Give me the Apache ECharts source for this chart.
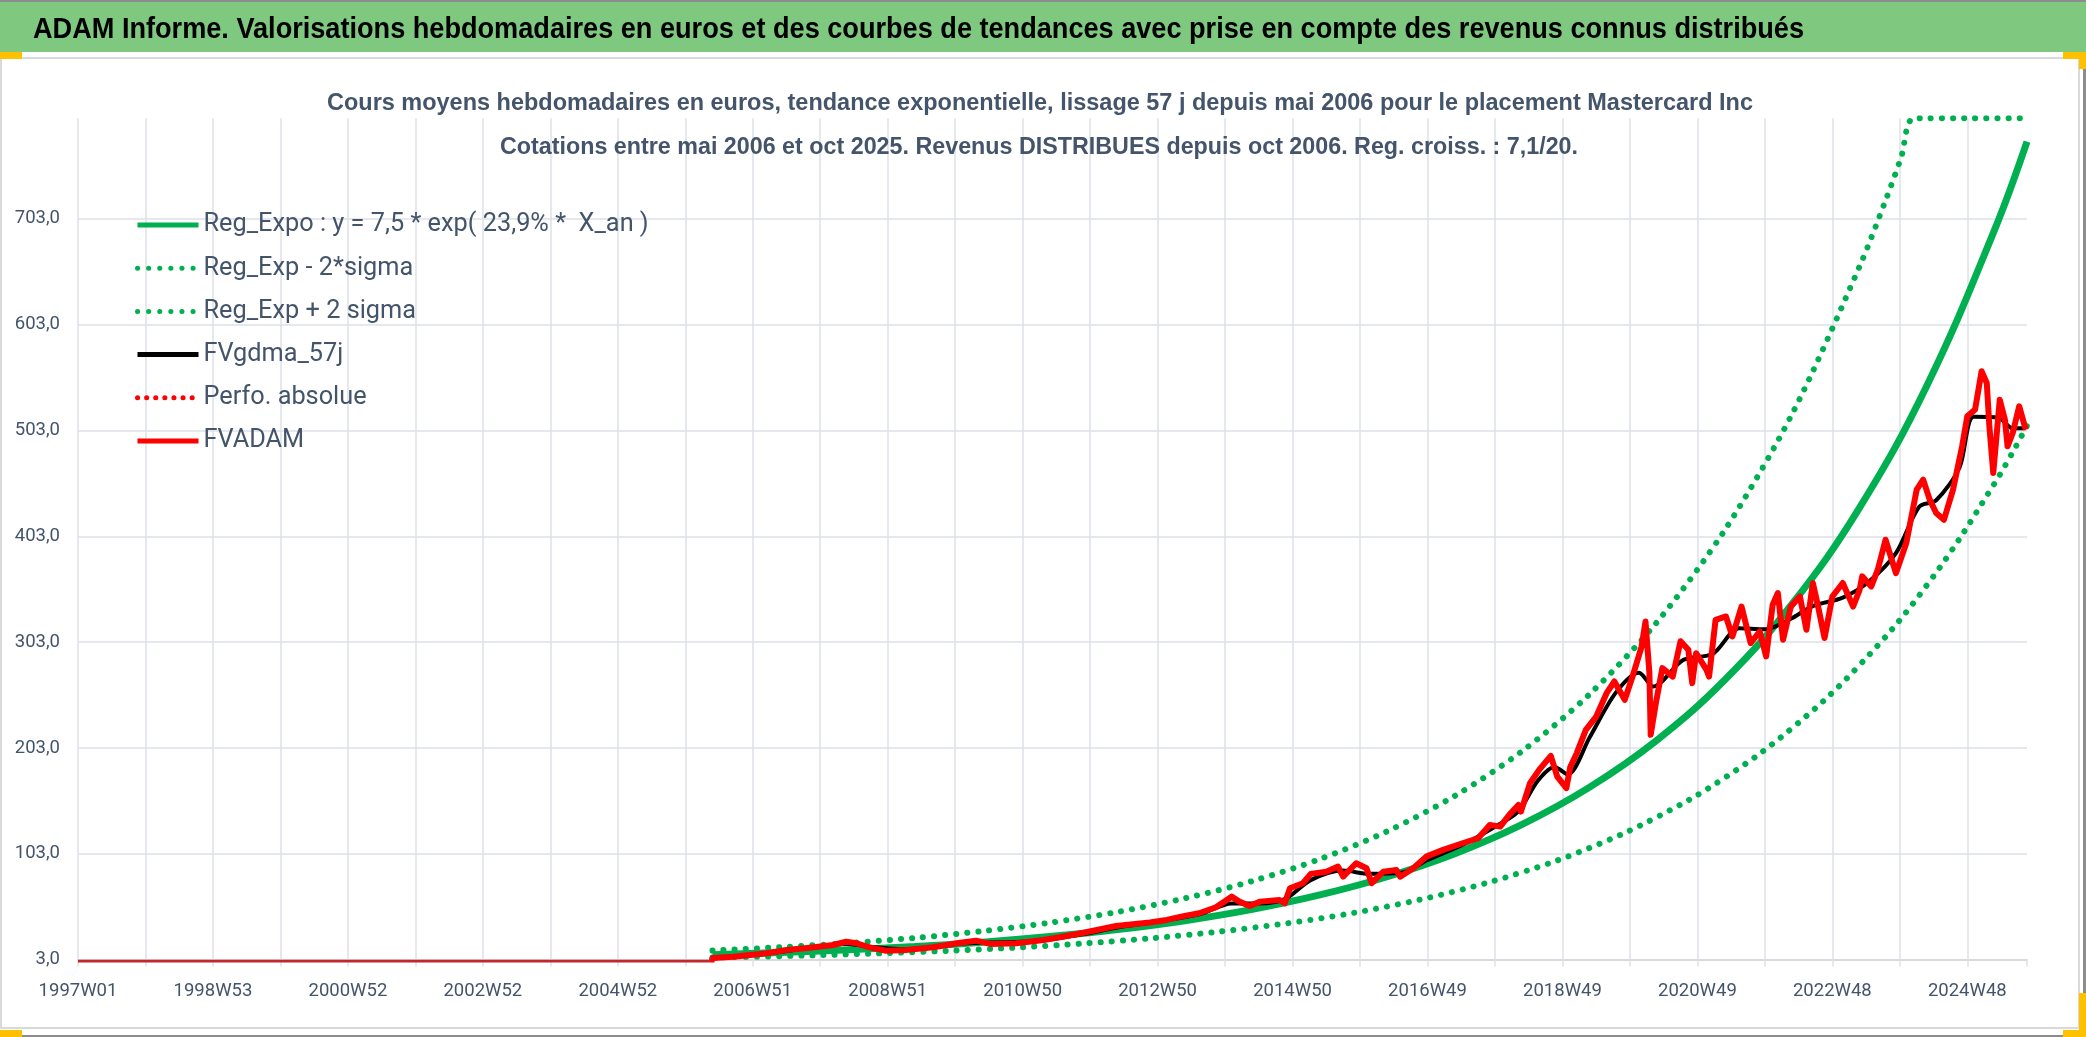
<!DOCTYPE html>
<html>
<head>
<meta charset="utf-8">
<script src="https://cdn.jsdelivr.net/npm/echarts@6/dist/echarts.min.js"></script>
<style>
html,body{margin:0;padding:0;background:#fff;}
#chart{width:2086px;height:1037px;}
</style>
</head>
<body>
<div id="chart"></div>
<script>
// ---------- text ----------
const mainTitle = 'ADAM Informe. Valorisations hebdomadaires en euros et des courbes de tendances avec prise en compte des revenus connus distribués';
const subTitle1 = 'Cours moyens hebdomadaires en euros, tendance exponentielle, lissage 57 j depuis mai 2006 pour le placement Mastercard Inc';
const subTitle2 = 'Cotations entre mai 2006 et oct 2025. Revenus DISTRIBUES depuis oct 2006. Reg. croiss. : 7,1/20.';
const seriesNames = ['Reg_Expo : y = 7,5 * exp( 23,9% *  X_an )', 'Reg_Exp - 2*sigma', 'Reg_Exp + 2 sigma', 'FVgdma_57j', 'Perfo. absolue', 'FVADAM'];

// ---------- x axis (week index from 1997W01) ----------
const tickLabels = ['1997W01','1998W53','2000W52','2002W52','2004W52','2006W51','2008W51','2010W50','2012W50','2014W50','2016W49','2018W49','2020W49','2022W48','2024W48'];

// ---------- trend curves ----------
const trendWeeks = [489,541,593,645,697,749,801,853,905,957,1009,1061,1113,1165,1217,1269,1321,1373,1425,1477,1502];
const regValues  = [7.5,9.5,12.1,15.3,19.4,24.7,31.3,39.7,50.4,64.0,81.2,103.0,130.7,165.9,210.5,267.1,339.0,430.1,545.8,692.6,776];
const lowerValues = [4.9,6.2,7.9,10.0,12.7,16.1,20.5,26.0,33.0,41.8,53.1,67.4,85.5,108.5,137.7,174.7,221.7,281.3,357.0,453.0,507.5];
const upperWeeks  = [489,541,593,645,697,749,801,853,905,957,1009,1061,1113,1165,1217,1269,1321,1373,1394,1405,1415,1460,1502];
const upperValues = [11.5,14.6,18.5,23.4,29.8,37.8,47.9,60.8,77.1,97.9,124.2,157.6,200.0,253.8,322.1,408.7,518.6,658.1,723.6,761.0,798,798,798];

// ---------- FVADAM weekly valuation ----------
const fvadamWeeks = [0,488,489,505,531,546,564,582,592,600,610,623,638,659,680,692,703,723,744,762,775,800,826,839,852,864,877,889,895,903,911,926,930,934,944,950,962,971,975,985,993,997,1006,1016,1019,1029,1039,1052,1067,1079,1088,1096,1103,1110,1112,1119,1126,1135,1140,1147,1150,1155,1162,1170,1178,1184,1192,1198,1205,1208,1211,1212,1216,1221,1229,1235,1241,1244,1247,1255,1257,1262,1270,1275,1282,1289,1296,1301,1306,1310,1314,1320,1327,1332,1337,1341,1346,1352,1360,1368,1373,1375,1382,1387,1393,1401,1409,1417,1422,1427,1432,1438,1445,1452,1456,1462,1467,1471,1473,1476,1481,1485,1487,1491,1496,1501];
const fvadamValues = [0,0,4.5,5.6,8.9,12,14.2,16.7,19.8,18.3,14.5,11.3,12,14.5,18.9,20.8,17.7,18.3,21.4,25.2,28.3,34.7,38,40.4,44,46.7,52.4,62.4,57.7,53.6,57.7,59.3,56.1,70.3,75.1,83.9,86,90.8,81.3,94,89.2,75.1,86,87.6,81.3,89.2,100.2,106.6,112.9,117.6,130.2,128.6,139.7,149.1,142.8,169.6,182.2,195.5,175.9,165,185,198,220,232.6,254.7,265.7,248.4,270.4,298.8,322.5,273.7,215.3,245.3,278.4,270.4,303.8,295.7,264.2,292.5,276.7,270.4,324,327.2,308.3,336.6,302,313,289.4,338.3,349.3,305.2,336.6,346.1,314.6,358.8,336.6,306.8,346.1,358.8,336.6,352.4,365.1,355.6,371.4,399.7,368.2,396.6,447,456.5,437.6,425,418.6,447,488,516.3,522.7,558.9,547.9,506.9,462.8,532.1,513.2,488,500.6,525.8,503.8];

// ---------- FVgdma_57j smoothed valuation ----------
const gdmaWeeks  = [489,530,564,592,610,640,680,700,740,775,800,830,865,889,910,930,950,975,995,1020,1040,1068,1090,1110,1125,1138,1148,1165,1185,1203,1214,1237,1260,1280,1300,1320,1337,1360,1380,1401,1419,1432,1450,1461,1480,1491,1501];
const gdmaValues = [4,8.5,14,18,15,12.5,18,19,20.5,27,33,38.5,46,56,56,60,78,87,84,85,97,112,127,143,172,185,178,213,255,274,261,286,292,316,315,325,337,345,360,387,431,437,468,516,515,505,505];

// ---------- Perfo. absolue (not visible in the picture) ----------
const perfoWeeks = [];
const perfoValues = [];

const pairs = (w, v) => w.map((x, i) => [x, v[i]]);

const TITLE_FONT = '"Liberation Sans", Arial, sans-serif';
const FONT = 'Roboto, "Liberation Sans", sans-serif';
const TXT = '#44546A';
const GRID = '#dde1e6';
const GREEN = '#00b050';

// text measuring helper, used to fit the narrow (condensed) lettering of the reference
const mctx = document.createElement('canvas').getContext('2d');
function textWidth(text, font) { mctx.font = font; return mctx.measureText(text).width; }

const titleFont = 'bold 30px ' + TITLE_FONT;
const subFont = 'bold 23.5px ' + TITLE_FONT;
const titleScale = 1771 / textWidth(mainTitle, titleFont);
const sub1Scale = 1426 / textWidth(subTitle1, subFont);
const sub2Scale = 1078 / textWidth(subTitle2, subFont);
const legendFontSize = Math.round(28 * 445 / textWidth(seriesNames[0], '28px ' + FONT) * 10) / 10;

// FVADAM: darker red along the axis before the first quotation (mai 2006)
const firstQuoteShare = (fvadamWeeks[2] - 0.5 - fvadamWeeks[0]) / (fvadamWeeks[fvadamWeeks.length - 1] - fvadamWeeks[0]);
const fvadamColor = new echarts.graphic.LinearGradient(0, 0, 1, 0, [
  {offset: 0, color: '#c0282d'},
  {offset: firstQuoteShare, color: '#c0282d'},
  {offset: firstQuoteShare + 0.0001, color: '#ff0000'},
  {offset: 1, color: '#ff0000'}
]);

const chart = echarts.init(document.getElementById('chart'), null, {renderer: 'canvas'});
chart.setOption({
  animation: false,
  backgroundColor: '#ffffff',
  graphic: [
    {type: 'rect', shape: {x: 0, y: 0, width: 2086, height: 2}, style: {fill: '#8c8c8c'}, z: 0},
    {type: 'rect', shape: {x: 0, y: 2, width: 2086, height: 50}, style: {fill: '#7fc87f'}, z: 0},
    {type: 'rect', shape: {x: 1, y: 58, width: 2078, height: 970}, style: {fill: 'none', stroke: '#d9d9d9', lineWidth: 2}, z: 0},
    {type: 'rect', shape: {x: 2083, y: 52, width: 3, height: 985}, style: {fill: '#8c8c8c'}, z: 0},
    {type: 'rect', shape: {x: 0, y: 1035, width: 2086, height: 2}, style: {fill: '#8c8c8c'}, z: 0},
    {type: 'rect', shape: {x: 0, y: 52, width: 22, height: 7}, style: {fill: '#ffc000'}, z: 1},
    {type: 'rect', shape: {x: 2063, y: 52, width: 23, height: 7}, style: {fill: '#ffc000'}, z: 1},
    {type: 'rect', shape: {x: 2079, y: 52, width: 7, height: 17}, style: {fill: '#ffc000'}, z: 1},
    {type: 'rect', shape: {x: 0, y: 1030, width: 22, height: 7}, style: {fill: '#ffc000'}, z: 1},
    {type: 'rect', shape: {x: 2063, y: 1030, width: 23, height: 7}, style: {fill: '#ffc000'}, z: 1},
    {type: 'rect', shape: {x: 2079, y: 993, width: 7, height: 44}, style: {fill: '#ffc000'}, z: 1},
    {type: 'text', x: 33, y: 30, scaleX: titleScale, style: {text: mainTitle, font: titleFont, fill: '#000000', textVerticalAlign: 'middle', textAlign: 'left'}, z: 5},
    {type: 'text', x: 1040, y: 104, scaleX: sub1Scale, style: {text: subTitle1, font: subFont, fill: TXT, textVerticalAlign: 'middle', textAlign: 'center'}, z: 5},
    {type: 'text', x: 1039, y: 148, scaleX: sub2Scale, style: {text: subTitle2, font: subFont, fill: TXT, textVerticalAlign: 'middle', textAlign: 'center'}, z: 5}
  ],
  grid: {left: 78, right: 59, top: 118.3, bottom: 77.5, containLabel: false},
  legend: {
    orient: 'vertical', left: 135, top: 211, padding: 0,
    itemWidth: 61, itemHeight: 14, itemGap: 15.2,
    itemStyle: {opacity: 0},
    lineStyle: {width: 5},
    textStyle: {fontFamily: FONT, fontSize: legendFontSize, lineHeight: 28, color: TXT},
    data: seriesNames.map(n => n === 'FVADAM' ? {name: n, lineStyle: {color: '#ff0000'}} : n)
  },
  xAxis: {
    type: 'value', min: 0, max: 1502, interval: 52,
    axisLine: {show: true, lineStyle: {color: '#d9d9d9', width: 2}},
    axisTick: {show: true, length: 7, lineStyle: {color: GRID, width: 1.5}},
    splitLine: {show: true, showMaxLine: false, lineStyle: {color: GRID, width: 1.5}},
    axisLabel: {
      margin: 22, fontFamily: FONT, fontSize: 18.5, color: TXT,
      formatter: v => (v % 104 === 0 && v / 104 < tickLabels.length) ? tickLabels[v / 104] : ''
    }
  },
  yAxis: {
    type: 'value', min: 3, max: 798, interval: 100,
    axisLine: {show: false}, axisTick: {show: false},
    splitLine: {show: true, showMaxLine: false, lineStyle: {color: GRID, width: 1.5}},
    axisLabel: {
      margin: 18, fontFamily: FONT, fontSize: 18.5, color: TXT,
      formatter: v => (Math.round(v - 3) % 100 === 0) ? v.toFixed(1).replace('.', ',') : ''
    }
  },
  series: [
    {name: seriesNames[0], type: 'line', data: pairs(trendWeeks, regValues), smooth: 0.4, showSymbol: false, symbol: 'none',
     lineStyle: {color: GREEN, width: 7}, itemStyle: {color: GREEN}},
    {name: seriesNames[1], type: 'line', data: pairs(trendWeeks, lowerValues), smooth: 0.4, showSymbol: false, symbol: 'none',
     lineStyle: {color: GREEN, width: 6, type: [0.1, 11], cap: 'round'}, itemStyle: {color: GREEN}},
    {name: seriesNames[2], type: 'line', data: pairs(upperWeeks, upperValues), smooth: 0.3, showSymbol: false, symbol: 'none',
     lineStyle: {color: GREEN, width: 6, type: [0.1, 11], cap: 'round'}, itemStyle: {color: GREEN}},
    {name: seriesNames[3], type: 'line', data: pairs(gdmaWeeks, gdmaValues), smooth: 0.3, showSymbol: false, symbol: 'none',
     lineStyle: {color: '#000000', width: 4}, itemStyle: {color: '#000000'}},
    {name: seriesNames[4], type: 'line', data: pairs(perfoWeeks, perfoValues), showSymbol: false, symbol: 'none',
     lineStyle: {color: '#ff0000', width: 4, type: [0.1, 9], cap: 'round'}, itemStyle: {color: '#ff0000'}},
    {name: seriesNames[5], type: 'line', data: pairs(fvadamWeeks, fvadamValues), showSymbol: false, symbol: 'none',
     lineStyle: {color: fvadamColor, width: 6, join: 'round'}, itemStyle: {color: '#ff0000'}}
  ]
});
</script>
</body>
</html>
